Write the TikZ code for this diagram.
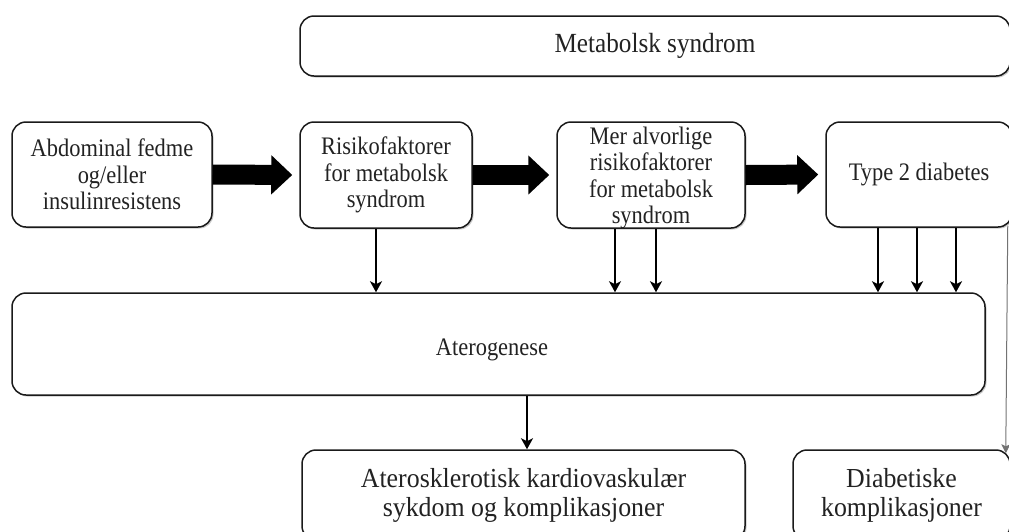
\documentclass[tikz,border=0pt]{standalone}
\usepackage{fontspec}
\setmainfont{Liberation Serif}
\newfontfamily\topfam[FakeStretch=0.89]{Liberation Serif}
\newfontfamily\msfam[FakeStretch=0.91]{Liberation Serif}
\newfontfamily\botfam[FakeStretch=0.94]{Liberation Serif}
\usetikzlibrary{arrows.meta,shadows}
\definecolor{txt}{HTML}{222222}
\definecolor{edge}{HTML}{1A1A1A}
\tikzset{
  box/.style={draw=edge, line width=1.5pt, rounded corners=14pt, fill=white,
    align=center, inner sep=0pt, text=txt,
    drop shadow={shadow xshift=1.5pt, shadow yshift=-1.5pt, opacity=0.3, fill=black!70}},
  topfont/.style={font=\topfam\fontsize{25.2}{26.5}\selectfont},
  msfont/.style={font=\msfam\fontsize{27.7}{30}\selectfont},
  bigfont/.style={font=\botfam\fontsize{27.5}{29}\selectfont},
  thinarrow/.style={draw=black, line width=1.8pt, -{Stealth[length=11pt,width=12pt,inset=3pt]}},
  thickarrow/.style={draw=black, line width=20pt, -{Triangle[length=21pt,width=38pt]}, shorten >=7pt},
  sidearrow/.style={draw=black!55, line width=1pt, -{Stealth[length=9pt,width=9pt,inset=2pt]}}
}
\begin{document}
\begin{tikzpicture}[x=1pt,y=-1pt]
\useasboundingbox (0,0) rectangle (1009,531);
\clip (0,0) rectangle (1009,531);
% boxes
\node[box, msfont, minimum width=710pt, minimum height=60pt] (ms) at (655,46) {Metabolsk syndrom};
\node[box, topfont, minimum width=200pt, minimum height=105pt] (af) at (112,174.5) {Abdominal fedme\\og/eller\\insulinresistens};
\node[box, topfont, minimum width=172pt, minimum height=106pt] (rf) at (386,175) {Risikofaktorer\\for metabolsk\\syndrom};
\node[box, topfont, minimum width=188pt, minimum height=106pt] (ma) at (651,175) {};
\node[topfont, text=txt, align=center, inner sep=0pt] (matext) at (651,178) {Mer alvorlige\\risikofaktorer\\for metabolsk\\syndrom};
\node[box, topfont, minimum width=186pt, minimum height=105pt] (t2) at (919,174.5) {Type 2 diabetes};
\node[box, minimum width=973pt, minimum height=102pt] (at) at (498.5,344) {};
\node[topfont, text=txt, inner sep=0pt] (attext) at (492,350) {Aterogenese};
\node[box, bigfont, minimum width=443pt, minimum height=90pt] (ak) at (523.5,495) {Aterosklerotisk kardiovaskulær\\sykdom og komplikasjoner};
\node[box, bigfont, minimum width=217pt, minimum height=90pt] (dk) at (901.5,495) {Diabetiske\\komplikasjoner};
% thick arrows
\draw[thickarrow] (af.east) -- (rf.west);
\draw[thickarrow] (rf.east) -- (ma.west);
\draw[thickarrow] (ma.east) -- (t2.west);
% thin arrows
\draw[thinarrow] ([xshift=-10pt]rf.south) -- ([xshift=-10pt]rf.south |- at.north);
\draw[thinarrow] ([xshift=-36pt]ma.south) -- ([xshift=-36pt]ma.south |- at.north);
\draw[thinarrow] ([xshift=5pt]ma.south) -- ([xshift=5pt]ma.south |- at.north);
\draw[thinarrow] ([xshift=-41pt]t2.south) -- ([xshift=-41pt]t2.south |- at.north);
\draw[thinarrow] ([xshift=-2pt]t2.south) -- ([xshift=-2pt]t2.south |- at.north);
\draw[thinarrow] ([xshift=37pt]t2.south) -- ([xshift=37pt]t2.south |- at.north);
\draw[thinarrow] ([xshift=3.5pt]ak.north |- at.south) -- ([xshift=3.5pt]ak.north);
% side arrow at right edge
\draw[sidearrow] ([xshift=-5pt,yshift=2pt]t2.south east) -- ([xshift=-5pt,yshift=-4pt]dk.north east);
\end{tikzpicture}
\end{document}
